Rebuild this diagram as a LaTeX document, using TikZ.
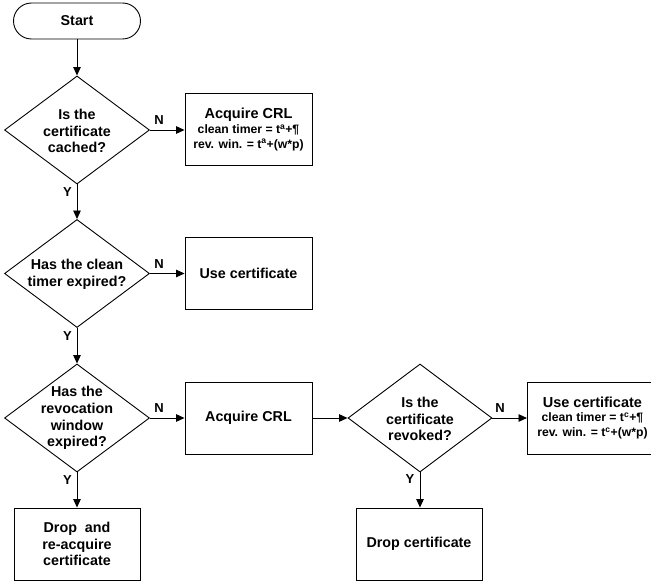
\documentclass[tikz,border=0pt]{standalone}
\usepackage{fontspec}
\setmainfont{Liberation Sans}
\usetikzlibrary{shapes.geometric,arrows.meta}
\newcommand{\boxhead}[1]{{\fontsize{14.5}{14.8}\selectfont #1}}
\begin{document}
\begin{tikzpicture}[x=1pt,y=-1pt,line width=0.9pt,
  big/.style={font=\fontsize{14.3}{16.7}\selectfont\bfseries},
  box/.style={draw,rectangle,minimum width=127pt,minimum height=72pt,inner sep=0pt,align=center,big},
  infobox/.style={box,font=\fontsize{12.2}{14.8}\selectfont\bfseries},
  dia/.style={draw,diamond,minimum width=145pt,minimum height=108pt,inner sep=0pt},
  dtext/.style={align=center,inner sep=0pt,big},
  startbox/.style={draw,rectangle,rounded corners=18pt,minimum width=127pt,minimum height=36pt,big},
  lab/.style={font=\fontsize{13}{14}\selectfont\bfseries,inner sep=0pt},
  arr/.style={-{Triangle[length=8.5pt,width=7.5pt]}}
]
\useasboundingbox (0,0) rectangle (651,583);

\node[startbox] (start) at (77,21) {Start};

\node[dia] (d1) at (77,130) {};
\node[dtext] (d1t) at (77,131) {Is the\\certificate\\cached?};
\node[infobox] (b1) at (248.5,129.5) {\boxhead{Acquire CRL}\\clean timer = t\textsuperscript{a}+¶\\rev. win. = t\textsuperscript{a}+(w*p)};

\node[dia] (d2) at (77,273.5) {};
\node[dtext] (d2t) at (77,274) {Has the clean\\timer expired?};
\node[box] (b2) at (248.5,273.5) {Use certificate};

\node[dia] (d3) at (77,418) {};
\node[dtext] (d3t) at (77,418) {Has the\\revocation\\window\\expired?};
\node[box] (b3) at (248.5,418) {Acquire CRL};

\node[dia,minimum width=144pt] (d4) at (420,418) {};
\node[dtext] (d4t) at (420,419) {Is the\\certificate\\revoked?};
\node[infobox,minimum width=130pt,anchor=west] (b5) at (527,418) {\boxhead{Use certificate}\\clean timer = t\textsuperscript{c}+¶\\rev. win. = t\textsuperscript{c}+(w*p)};

\node[box,minimum width=126pt] (b4) at (77,544) {Drop\ \ and\\re-acquire\\certificate};
\node[box,minimum width=126pt] (b6) at (419,544) {Drop certificate};

\draw[arr] (start) -- (d1);
\draw[arr] (d1.east) -- (d1.east -| b1.west);
\draw[arr] (d1) -- (d2);
\draw[arr] (d2) -- (b2);
\draw[arr] (d2) -- (d3);
\draw[arr] (d3) -- (b3);
\draw[arr] (d3) -- (b4);
\draw[arr] (b3) -- (d4);
\draw[arr] (d4) -- (b5);
\draw[arr] (d4.south) -- (d4.south |- b6.north);

\node[lab] (n1) at (159,120.5) {N};
\node[lab] (n2) at (159,264) {N};
\node[lab] (n3) at (159,408) {N};
\node[lab] (n4) at (500,408) {N};
\node[lab] (y1) at (67.5,192) {Y};
\node[lab] (y2) at (67.5,336) {Y};
\node[lab] (y3) at (67.5,480) {Y};
\node[lab] (y4) at (410,479) {Y};
\end{tikzpicture}
\end{document}
